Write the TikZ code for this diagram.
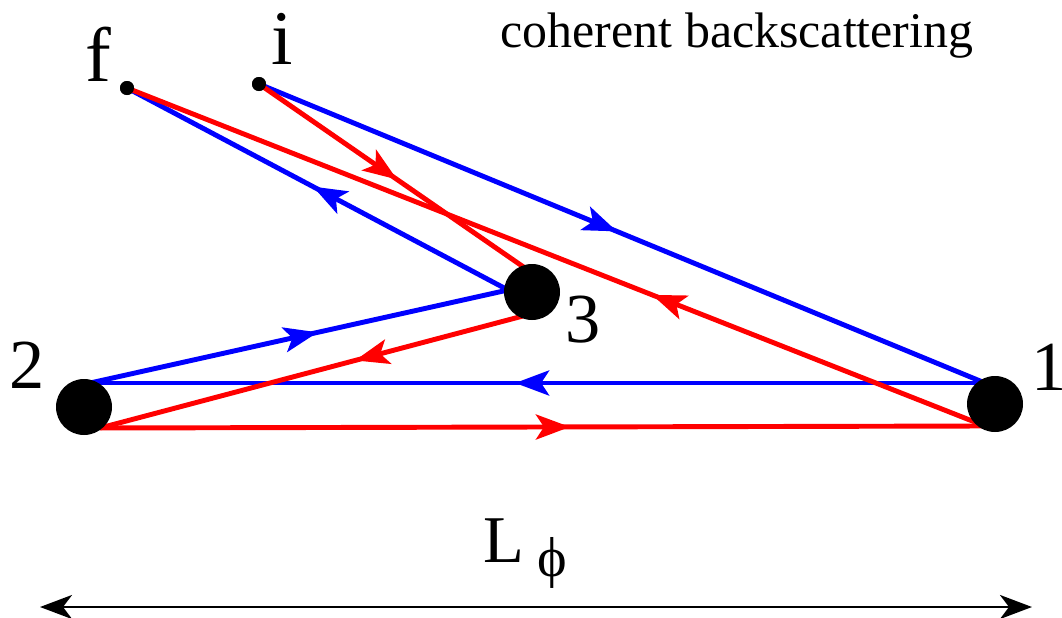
\documentclass[tikz,border=0pt]{standalone}
\usepackage{fontspec}
\setmainfont{Liberation Serif}
\usetikzlibrary{arrows.meta,decorations.markings}

\tikzset{
  ray/.style={line width=1.4pt},
  flow/.style={postaction={decorate},
    decoration={markings, mark=at position #1 with {\arrow{Stealth[length=3.4mm,width=2.5mm,inset=0.8mm]}}}},
  scat/.style={circle, fill=black, minimum size=5.6mm, inner sep=0pt},
  dot/.style={circle, fill=black, minimum size=1.4mm, inner sep=0pt},
  lbl/.style={font=\rmfamily\fontsize{20}{24}\selectfont, anchor=base, inner sep=0pt},
}

\begin{document}
\begin{tikzpicture}

\useasboundingbox (0,0) rectangle (10.62,6.17);

% start and end points
\node[dot] (f) at (1.27,5.29) {};
\node[dot] (i) at (2.59,5.33) {};

% where the rays meet the scatterers
\coordinate (b1) at (9.85,2.34);
\coordinate (r1) at (9.85,1.91);
\coordinate (b2) at (0.90,2.34);
\coordinate (r2) at (1.00,1.89);
\coordinate (b3) at (5.08,3.27);
\coordinate (r3a) at (5.25,3.49);
\coordinate (r3b) at (5.23,3.01);

% blue path: i -> 1 -> 2 -> 3 -> f
\draw[blue, ray, flow=0.493] (i.center) -- (b1);
\draw[blue, ray, flow=0.525] (b1) -- (b2);
\draw[blue, ray, flow=0.545] (b2) -- (b3);
\draw[blue, ray, flow=0.512] (b3) -- (f.center);

% red path: i -> 3 -> 2 -> 1 -> f
\draw[red, ray, flow=0.519] (i.center) -- (r3a);
\draw[red, ray, flow=0.397] (r3b) -- (r2);
\draw[red, ray, flow=0.531] (r2) -- (r1);
\draw[red, ray, flow=0.388] (r1) -- (f.center);

% scatterers
\node[scat] (s1) at (9.95,2.13) {};
\node[scat] (s2) at (0.84,2.10) {};
\node[scat] (s3) at (5.32,3.25) {};
\node[dot] at (f) {};
\node[dot] at (i) {};

\node[lbl] (n1) at (10.49,2.27) {1};
\node[lbl] (n2) at (0.27,2.29) {2};
\node[lbl] (n3) at (5.83,2.75) {3};
\node[lbl, font=\rmfamily\fontsize{22}{26}\selectfont] (nf) at (0.98,5.35) {f};
\node[lbl, font=\rmfamily\fontsize{22}{26}\selectfont] (ni) at (2.82,5.52) {i};

\node[anchor=base, inner sep=0pt, font=\rmfamily\fontsize{14.2}{17}\selectfont] (title) at (7.37,5.70) {coherent backscattering};

% dephasing length
\node[anchor=base, inner sep=0pt, font=\rmfamily\fontsize{19}{22}\selectfont] (len) at (5.25,0.55)
  {L\hspace{0.2em}\raisebox{-0.22em}{\fontsize{16}{18}\selectfont\symbol{"03D5}}};
\coordinate (lft) at (0.40,0.10);
\coordinate (rgt) at (10.32,0.10);
\draw[{Stealth[length=3.2mm,width=2.4mm,inset=0.9mm]}-{Stealth[length=3.2mm,width=2.4mm,inset=0.9mm]}, line width=0.8pt] (lft) -- (rgt);

\end{tikzpicture}
\end{document}
